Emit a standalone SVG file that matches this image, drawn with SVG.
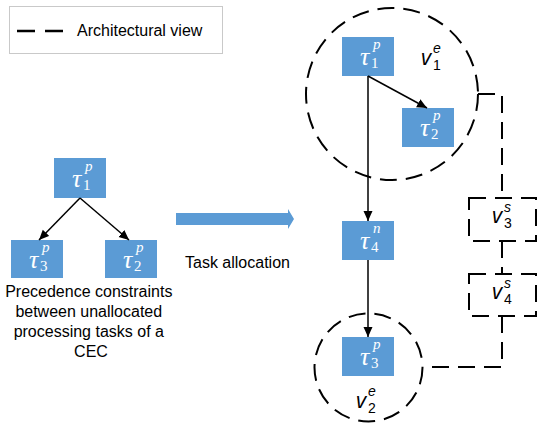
<svg xmlns="http://www.w3.org/2000/svg" width="538" height="425" viewBox="0 0 538 425">
  <defs>
    <marker id="arrow" markerUnits="userSpaceOnUse" markerWidth="10" markerHeight="10" viewBox="0 0 10 10" refX="10" refY="5" orient="auto">
      <path d="M0,0.5 L10,5 L0,9.5 Z" fill="#000"/>
    </marker>
    <style>
      .task { fill: #5b9bd5; }
      .tau { font-family: "Liberation Serif", "DejaVu Serif", serif; font-style: italic; font-size: 26px; fill: #ffffff; }
      .tau .sub { font-style: normal; font-size: 15px; }
      .tau .sup { font-size: 15px; }
      .label { font-family: "Liberation Sans", Arial, sans-serif; font-size: 16px; fill: #000; }
      .node-v { font-family: "Open Sans", "Liberation Sans", sans-serif; font-style: italic; font-size: 22px; fill: #000; }
      .node-v .sup { font-family: "Liberation Sans", Arial, sans-serif; font-size: 14px; }
      .node-v .sub { font-family: "Liberation Sans", Arial, sans-serif; font-style: normal; font-size: 14px; }
      .dash { fill: none; stroke: #000; stroke-width: 2; stroke-dasharray: 17 9; }
      .edge { fill: none; stroke: #000; stroke-width: 1.5; marker-end: url(#arrow); }
    </style>
  </defs>

  <rect width="538" height="425" fill="#ffffff"/>

  <!-- legend -->
  <g id="legend">
    <rect x="9.5" y="6.5" width="213" height="47" fill="#fff" stroke="#c9c9c9" stroke-width="1"/>
    <line x1="17" y1="31" x2="64" y2="31" stroke="#000" stroke-width="2.5" stroke-dasharray="18 10"/>
    <text class="label" x="77" y="36">Architectural view</text>
  </g>

  <!-- unallocated precedence graph -->
  <g id="tau1p-left">
    <rect class="task" x="54" y="158" width="52" height="40"/>
    <text class="tau" x="72" y="187">τ<tspan class="sub" x="83" y="190">1</tspan><tspan class="sup" x="85" y="171">p</tspan></text>
  </g>
  <g id="tau3p-left">
    <rect class="task" x="11" y="240" width="52" height="38"/>
    <text class="tau" x="29" y="268">τ<tspan class="sub" x="40" y="271">3</tspan><tspan class="sup" x="42" y="252">p</tspan></text>
  </g>
  <g id="tau2p-left">
    <rect class="task" x="105" y="240" width="52" height="38"/>
    <text class="tau" x="123" y="268">τ<tspan class="sub" x="134" y="271">2</tspan><tspan class="sup" x="136" y="252">p</tspan></text>
  </g>
  <g id="caption">
    <text class="label" text-anchor="middle">
      <tspan x="91" y="297">Precedence constraints</tspan>
      <tspan x="91" y="317">between unallocated</tspan>
      <tspan x="91" y="337">processing tasks of a</tspan>
      <tspan x="91" y="357">CEC</tspan>
    </text>
  </g>

  <!-- allocation arrow -->
  <g id="allocation">
    <path d="M176,213 H288 V209 L294,219 L288,229 V225 H176 Z" fill="#5b9bd5"/>
    <text class="label" x="185" y="268">Task allocation</text>
  </g>

  <!-- architectural view -->
  <g id="v1e">
    <circle class="dash" cx="392" cy="94" r="86"/>
    <text class="node-v" x="421" y="65">v<tspan class="sup" x="433" y="53">e</tspan><tspan class="sub" x="433" y="70">1</tspan></text>
  </g>
  <g id="v2e">
    <circle class="dash" cx="368.5" cy="367.5" r="54"/>
    <text class="node-v" x="356" y="408">v<tspan class="sup" x="368" y="396">e</tspan><tspan class="sub" x="368" y="413">2</tspan></text>
  </g>
  <g id="v3s">
    <rect class="dash" x="469" y="198" width="67" height="43"/>
    <text class="node-v" x="492" y="223">v<tspan class="sup" x="504" y="212">s</tspan><tspan class="sub" x="504" y="228">3</tspan></text>
  </g>
  <g id="v4s">
    <rect class="dash" x="469" y="274" width="67" height="42"/>
    <text class="node-v" x="492" y="299">v<tspan class="sup" x="504" y="288">s</tspan><tspan class="sub" x="504" y="304">4</tspan></text>
  </g>

  <g id="tau1p">
    <rect class="task" x="342" y="37" width="52" height="39"/>
    <text class="tau" x="360" y="65">τ<tspan class="sub" x="371" y="68">1</tspan><tspan class="sup" x="373" y="49">p</tspan></text>
  </g>
  <g id="tau2p">
    <rect class="task" x="402" y="108" width="52" height="39"/>
    <text class="tau" x="420" y="136">τ<tspan class="sub" x="431" y="139">2</tspan><tspan class="sup" x="433" y="120">p</tspan></text>
  </g>
  <g id="tau4n">
    <rect class="task" x="342" y="221" width="52" height="39"/>
    <text class="tau" x="360" y="249">τ<tspan class="sub" x="371" y="252">4</tspan><tspan class="sup" x="373" y="233">n</tspan></text>
  </g>
  <g id="tau3p">
    <rect class="task" x="342" y="337" width="52" height="39"/>
    <text class="tau" x="360" y="365">τ<tspan class="sub" x="371" y="368">3</tspan><tspan class="sup" x="373" y="349">p</tspan></text>
  </g>

  <!-- connectors -->
  <g id="connectors">
    <line class="edge" x1="80" y1="198" x2="39" y2="240"/>
    <line class="edge" x1="80" y1="198" x2="129" y2="240"/>
    <line class="edge" x1="368" y1="76" x2="427" y2="108"/>
    <line class="edge" x1="368" y1="76" x2="368" y2="221"/>
    <line class="edge" x1="368" y1="260" x2="368" y2="337"/>
    <path class="dash" d="M478,94 H502 V198"/>
    <path class="dash" d="M502,241 V274"/>
    <path class="dash" d="M502,316 V367 H423"/>
  </g>
</svg>
